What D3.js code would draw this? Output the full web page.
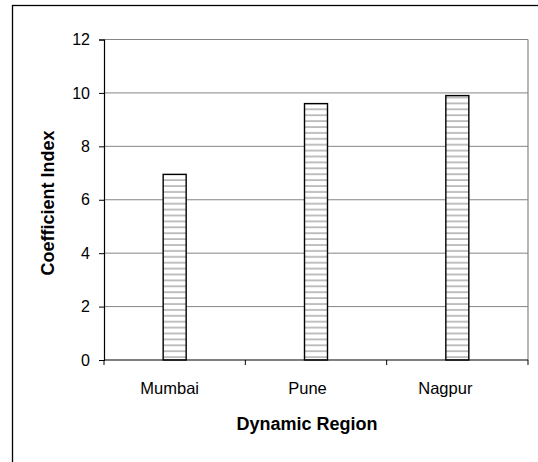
<!DOCTYPE html>
<html>
<head>
<meta charset="utf-8">
<script src="https://cdn.jsdelivr.net/npm/d3@7"></script>
<style>
  body { margin: 0; background: #fff; }
  svg text { font-family: "Liberation Sans", Arial, sans-serif; fill: #000; }
</style>
</head>
<body>
<svg id="chart" width="538" height="462"></svg>
<script>
const regions = ["Mumbai", "Pune", "Nagpur"];
const coefficients = [6.95, 9.6, 9.9];
const yTicks = [0, 2, 4, 6, 8, 10, 12];

const svg = d3.select("#chart");
const plotL = 104, plotR = 528, plotT = 39.5, plotB = 360;

// outer chart frame (runs off the right and bottom of the picture)
svg.append("rect")
    .attr("x", 12.5).attr("y", 5.5).attr("width", 560).attr("height", 480)
    .attr("fill", "none").attr("stroke", "#000").attr("stroke-width", 1.3);

const x = d3.scaleBand().domain(regions).range([plotL, plotR]);
const y = d3.scaleLinear().domain([0, 12]).range([plotB, plotT]);

// horizontal stripe fill for the bars
const pat = svg.append("defs").append("pattern")
    .attr("id", "stripes").attr("patternUnits", "userSpaceOnUse")
    .attr("x", 0).attr("y", plotB).attr("width", 8).attr("height", 5.9);
pat.append("rect").attr("width", 8).attr("height", 5.9).attr("fill", "#fff");
pat.append("line").attr("x1", 0).attr("x2", 8).attr("y1", 3).attr("y2", 3)
    .attr("stroke", "#8c8c8c").attr("stroke-width", 1.1);

// gridlines
svg.append("g").selectAll("line").data(yTicks.slice(1)).join("line")
    .attr("x1", plotL).attr("x2", plotR)
    .attr("y1", d => y(d)).attr("y2", d => y(d))
    .attr("stroke", "#858585").attr("stroke-width", 1);
// right side of plot area
svg.append("line").attr("x1", plotR).attr("x2", plotR).attr("y1", plotT).attr("y2", plotB)
    .attr("stroke", "#858585").attr("stroke-width", 1.2);

// bars
const barW = 23;
svg.append("g").selectAll("rect").data(coefficients).join("rect")
    .attr("x", (d, i) => x(regions[i]) + x.bandwidth() / 2 - barW / 2)
    .attr("y", d => y(d))
    .attr("width", barW)
    .attr("height", d => plotB - y(d))
    .attr("fill", "url(#stripes)")
    .attr("stroke", "#000").attr("stroke-width", 1.4);

// y axis
const yAxis = svg.append("g").attr("transform", `translate(${plotL},0)`)
    .call(d3.axisLeft(y).tickValues(yTicks).tickSize(5).tickPadding(9));
yAxis.select(".domain").attr("stroke", "#000").attr("stroke-width", 1.2);
yAxis.selectAll(".tick line").attr("stroke", "#000");
yAxis.selectAll(".tick text").attr("font-size", 16).attr("font-family", null);

// x axis with ticks at category boundaries
const xAxis = svg.append("g").attr("transform", `translate(0,${plotB})`);
xAxis.append("line").attr("x1", plotL).attr("x2", plotR)
    .attr("stroke", "#000").attr("stroke-width", 1.2);
const bounds = regions.map(r => x(r)).concat([x(regions[regions.length - 1]) + x.bandwidth()]);
xAxis.selectAll("line.tk").data(bounds).join("line").attr("class", "tk")
    .attr("x1", d => d).attr("x2", d => d).attr("y1", 0).attr("y2", 5)
    .attr("stroke", "#000");
xAxis.selectAll("text").data(regions).join("text")
    .attr("x", d => x(d) + x.bandwidth() / 2)
    .attr("dx", (d, i) => -5 - i * 3.5)
    .attr("y", 34)
    .attr("text-anchor", "middle").attr("font-size", 16.5)
    .text(d => d);

// axis titles
svg.append("text").attr("x", 307).attr("y", 430)
    .attr("text-anchor", "middle").attr("font-size", 18).attr("font-weight", "bold")
    .text("Dynamic Region");
svg.append("text").attr("transform", "translate(54,203) rotate(-90)")
    .attr("text-anchor", "middle").attr("font-size", 18).attr("font-weight", "bold")
    .text("Coefficient Index");
</script>
</body>
</html>
